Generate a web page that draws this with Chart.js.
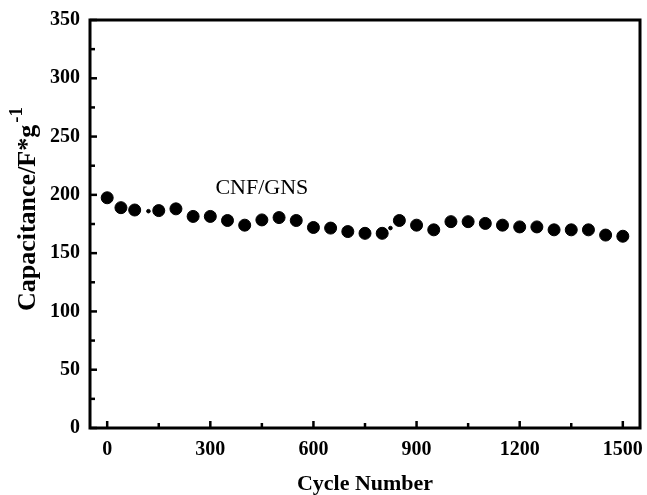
<!DOCTYPE html>
<html>
<head>
<meta charset="utf-8">
<script src="https://cdn.jsdelivr.net/npm/chart.js@4/dist/chart.umd.min.js"></script>
<style>
  html, body { margin: 0; padding: 0; background: #ffffff; }
  #wrap { width: 647px; height: 495px; }
</style>
</head>
<body>
<div id="wrap"><canvas id="c" width="647" height="495"></canvas></div>
<script>
// Cycling stability of the CNF/GNS electrode
const cycles = [0, 40, 80, 150, 200, 250, 300, 350, 400, 450, 500, 550, 600, 650, 700, 750,
                800, 850, 900, 950, 1000, 1050, 1100, 1150, 1200, 1250, 1300, 1350, 1400, 1450, 1500];
const capacitance = [197.5, 189, 187, 186.5, 188, 181.5, 181.5, 178, 174, 178.5, 180.5, 178, 172, 171.5, 168.5, 167,
                     167, 178, 174, 170, 177, 177, 175.5, 174, 172.5, 172.5, 170, 170, 170, 165.5, 164.5];

// faint extra marks between the main points
const smallMarkX = [120, 824];
const smallMarkY = [186, 171.5];

const xTicks = [0, 300, 600, 900, 1200, 1500];
const xMinorTicks = [150, 450, 750, 1050, 1350];
const yTicks = [0, 50, 100, 150, 200, 250, 300, 350];
const yMinorTicks = [25, 75, 125, 175, 225, 275, 325];

const seriesLabel = 'CNF/GNS';
const xTitle = 'Cycle Number';
const yTitleMain = 'Capacitance/F*g';
const yTitleSup = '-1';

const SERIF = '"Liberation Serif", "Times New Roman", serif';

const framePlugin = {
  id: 'frame',
  afterDatasetsDraw(chart) {
    const { ctx, chartArea: a, scales: { x, y } } = chart;
    ctx.save();
    ctx.strokeStyle = '#000';
    ctx.lineCap = 'butt';
    // inward tick marks
    ctx.lineWidth = 2.5;
    const tickY = (v, len) => {
      const py = y.getPixelForValue(v);
      ctx.beginPath(); ctx.moveTo(a.left, py); ctx.lineTo(a.left + len, py); ctx.stroke();
    };
    const tickX = (v, len) => {
      const px = x.getPixelForValue(v);
      ctx.beginPath(); ctx.moveTo(px, a.bottom); ctx.lineTo(px, a.bottom - len); ctx.stroke();
    };
    yTicks.forEach(v => tickY(v, 7));
    yMinorTicks.forEach(v => tickY(v, 5));
    xTicks.forEach(v => tickX(v, 7));
    xMinorTicks.forEach(v => tickX(v, 5));
    // box frame
    ctx.lineWidth = 3;
    ctx.strokeRect(a.left, a.top, a.right - a.left, a.bottom - a.top);

    // series label inside the plot
    ctx.fillStyle = '#000';
    ctx.font = '22px ' + SERIF;
    ctx.textAlign = 'center';
    ctx.textBaseline = 'middle';
    ctx.fillText(seriesLabel, x.getPixelForValue(450), y.getPixelForValue(205.5));

    // rotated y-axis title with superscript
    const mainFont = 'bold 26px ' + SERIF;
    const supFont = 'bold 19px ' + SERIF;
    ctx.font = mainFont;
    const wMain = ctx.measureText(yTitleMain).width;
    ctx.font = supFont;
    const wSup = ctx.measureText(yTitleSup).width;
    const total = wMain + wSup + 2;
    ctx.translate(27, 209);
    ctx.rotate(-Math.PI / 2);
    ctx.textAlign = 'left';
    ctx.textBaseline = 'alphabetic';
    ctx.font = mainFont;
    ctx.fillText(yTitleMain, -total / 2, 8);
    ctx.font = supFont;
    ctx.fillText(yTitleSup, -total / 2 + wMain + 2, -5);
    ctx.restore();
  }
};

new Chart(document.getElementById('c'), {
  type: 'scatter',
  data: {
    datasets: [
      {
        label: seriesLabel,
        data: cycles.map((c, i) => ({ x: c, y: capacitance[i] })),
        backgroundColor: '#000',
        borderColor: '#000',
        pointRadius: 6,
        pointHoverRadius: 6,
        showLine: false
      },
      {
        label: 'marks',
        data: smallMarkX.map((c, i) => ({ x: c, y: smallMarkY[i] })),
        backgroundColor: '#000',
        borderColor: '#000',
        pointRadius: 1.8,
        pointHoverRadius: 1.8,
        showLine: false
      }
    ]
  },
  options: {
    responsive: false,
    devicePixelRatio: 1,
    animation: false,
    layout: { padding: { top: 20, right: 4, left: 0, bottom: 0 } },
    plugins: { legend: { display: false }, tooltip: { enabled: false } },
    scales: {
      x: {
        type: 'linear',
        min: -50,
        max: 1550,
        afterBuildTicks: s => { s.ticks = xTicks.map(v => ({ value: v })); },
        afterFit: s => { s.height = 67; s.paddingLeft = 0; s.paddingRight = 0; },
        grid: { display: false, drawTicks: false },
        border: { display: false },
        ticks: {
          color: '#000',
          padding: 10,
          maxRotation: 0,
          autoSkip: false,
          callback: v => String(v),
          font: { family: SERIF, size: 20, weight: 'bold' }
        },
        title: {
          display: true,
          text: xTitle,
          color: '#000',
          padding: { top: 0, bottom: 0 },
          font: { family: SERIF, size: 22, weight: 'bold', lineHeight: 1 }
        }
      },
      y: {
        min: 0,
        max: 350,
        afterBuildTicks: s => { s.ticks = yTicks.map(v => ({ value: v })); },
        afterFit: s => { s.width = 90; s.paddingTop = 0; s.paddingBottom = 0; },
        grid: { display: false, drawTicks: false },
        border: { display: false },
        ticks: {
          color: '#000',
          padding: 10,
          callback: v => String(v),
          font: { family: SERIF, size: 20, weight: 'bold' }
        }
      }
    }
  },
  plugins: [framePlugin]
});
</script>
</body>
</html>
